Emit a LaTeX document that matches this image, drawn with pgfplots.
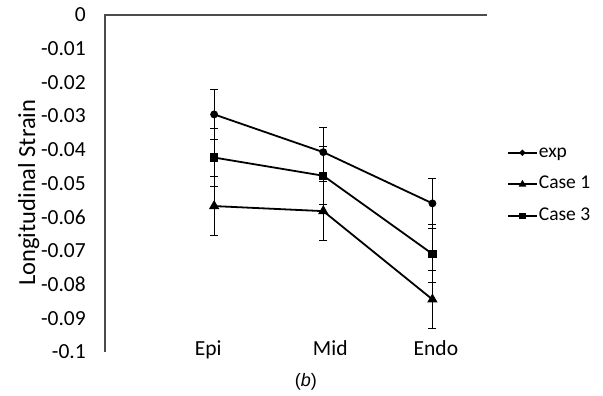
\documentclass[border=0pt]{standalone}
\usepackage{fontspec}
\setmainfont{Carlito}
\newfontfamily\arialfont{Liberation Sans}
\usepackage{pgfplots}
\pgfplotsset{compat=1.18}
\begin{document}
\begin{tikzpicture}[font=\fontsize{19}{23}\selectfont]
\begin{axis}[
  scale only axis, width=382pt, height=337pt,
  xmin=0, xmax=3.5, ymin=-0.1, ymax=0,
  clip=false,
  axis line style={draw=none},
  xtick={1,2,3},
  xticklabels={Epi\hspace*{12pt}, \hspace*{14pt}Mid, \hspace*{7pt}Endo},
  ytick={-0.1,-0.09,-0.08,-0.07,-0.06,-0.05,-0.04,-0.03,-0.02,-0.01,0},
  scaled y ticks=false,
  major tick length=0pt,
  tick label style={font=\fontsize{21.5}{25}\selectfont},
  /pgf/number format/assume math mode=true,
  yticklabel style={/pgf/number format/fixed, /pgf/number format/precision=2, inner sep=0pt},
  yticklabel shift=19pt,
  xticklabel style={anchor=base, inner sep=0pt, yshift=-4pt},
  ylabel={Longitudinal Strain},
  ylabel style={at={(rel axis cs:-0.183,0.473)}, anchor=base, font=\fontsize{24.5}{28}\selectfont},
  legend cell align=left,
  legend style={at={(rel axis cs:1.052,0.62)}, anchor=north west, draw=none, fill=none,
    row sep=12.6pt, inner sep=0pt, font=\fontsize{19.5}{23}\selectfont,
    nodes={text height=13pt, text depth=4pt, inner sep=1pt}},
  legend image code/.code={\draw[mark repeat=2,mark phase=2] plot coordinates {(0pt,0pt) (14.5pt,0pt) (29pt,0pt)};},
  legend image post style={mark options={scale=0.65}},
  error bars/error bar style={line width=1pt, black},
  error bars/error mark options={rotate=90, mark size=4pt, line width=1pt, black},
]
\addplot[black, line width=1.8pt, mark=*, mark size=3pt, mark options={solid, fill=black},
  error bars/.cd, y dir=both, y explicit]
  table[x=x, y=y, y error=e] {
x y e
1 -0.0295 0.0074
2 -0.0407 0.0074
3 -0.0559 0.0074
};
\addlegendentry{exp}
\addplot[black, line width=1.8pt, mark=triangle*, mark size=4.2pt, mark options={solid, fill=black},
  error bars/.cd, y dir=both, y explicit]
  table[x=x, y=y, y error=e] {
x y e
1 -0.0567 0.0087
2 -0.0582 0.0087
3 -0.0844 0.0087
};
\addlegendentry{Case 1}
\addplot[black, line width=1.8pt, mark=square*, mark size=3.3pt, mark options={solid, fill=black},
  error bars/.cd, y dir=both, y explicit]
  table[x=x, y=y, y error=e] {
x y e
1 -0.0423 0.0086
2 -0.0477 0.0086
3 -0.0709 0.0086
};
\addlegendentry{Case 3}
\draw[black!70, line width=1.2pt] (rel axis cs:0,0) -- (rel axis cs:0,1) -- (rel axis cs:1,1);
\node[anchor=base, font=\arialfont\fontsize{18}{22}\selectfont] at (rel axis cs:0.526,-0.102) {(\textit{b})};
\end{axis}
\path (current axis.south west) ++(-105pt,-44pt) rectangle ++(603pt,396pt);
\end{tikzpicture}
\end{document}
